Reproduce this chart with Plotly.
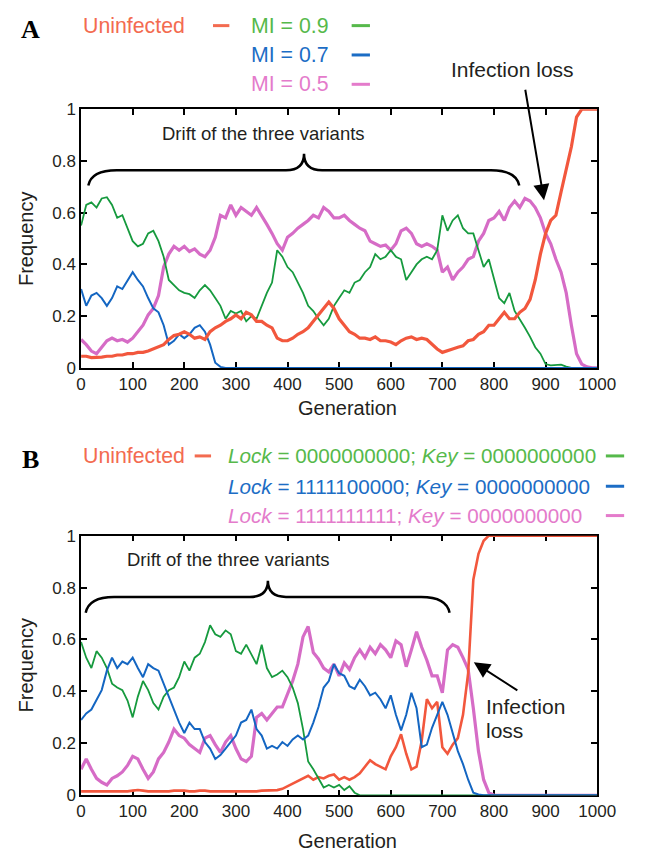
import plotly.graph_objects as go

W, H = 647, 862

# ---------------- data ----------------
generations = list(range(0, 1001, 10))

a_uninfected = [0.045, 0.045, 0.04, 0.04, 0.042, 0.045, 0.045, 0.05, 0.05, 0.055,
                0.055, 0.06, 0.06, 0.065, 0.073, 0.08, 0.09, 0.11, 0.125, 0.13,
                0.14, 0.13, 0.115, 0.12, 0.11, 0.14, 0.155, 0.165, 0.18, 0.19,
                0.205, 0.19, 0.215, 0.205, 0.18, 0.18, 0.165, 0.155, 0.115, 0.105,
                0.105, 0.115, 0.13, 0.14, 0.155, 0.18, 0.205, 0.23, 0.255, 0.23,
                0.19, 0.165, 0.14, 0.13, 0.115, 0.115, 0.11, 0.12, 0.105, 0.105,
                0.10, 0.09, 0.105, 0.115, 0.12, 0.11, 0.115, 0.11, 0.09, 0.073,
                0.06, 0.065, 0.073, 0.08, 0.085, 0.105, 0.11, 0.13, 0.14, 0.165,
                0.165, 0.19, 0.215, 0.19, 0.19, 0.215, 0.23, 0.265, 0.34, 0.44,
                0.52, 0.57, 0.59, 0.68, 0.77, 0.855, 0.97, 1.0, 1.0, 1.0, 1.0]

a_mi09 = [0.55, 0.63, 0.64, 0.62, 0.655, 0.66, 0.63, 0.58, 0.59, 0.54,
          0.49, 0.47, 0.48, 0.52, 0.53, 0.49, 0.43, 0.34, 0.32, 0.30,
          0.29, 0.285, 0.27, 0.30, 0.32, 0.30, 0.27, 0.24, 0.19, 0.22,
          0.21, 0.22, 0.18, 0.20, 0.19, 0.24, 0.29, 0.33, 0.455, 0.43,
          0.39, 0.37, 0.33, 0.29, 0.24, 0.22, 0.19, 0.165, 0.19, 0.24,
          0.27, 0.30, 0.29, 0.33, 0.34, 0.37, 0.39, 0.44, 0.42, 0.43,
          0.455, 0.43, 0.42, 0.34, 0.37, 0.40, 0.42, 0.43, 0.42, 0.455,
          0.59, 0.53, 0.57, 0.59, 0.54, 0.52, 0.52, 0.455, 0.39, 0.42,
          0.34, 0.27, 0.25, 0.29, 0.22, 0.19, 0.155, 0.12, 0.08, 0.055,
          0.015, 0.01, 0.012, 0.013, 0.005, 0, 0, 0, 0, 0, 0]

a_mi07 = [0.305, 0.24, 0.28, 0.29, 0.27, 0.24, 0.27, 0.315, 0.305, 0.34,
          0.37, 0.34, 0.315, 0.27, 0.23, 0.215, 0.165, 0.09, 0.105, 0.13,
          0.115, 0.13, 0.155, 0.165, 0.14, 0.09, 0.02, 0.004, 0, 0] + [0] * 71

a_mi05 = [0.11, 0.09, 0.065, 0.055, 0.08, 0.105, 0.115, 0.105, 0.11, 0.10,
          0.115, 0.14, 0.165, 0.205, 0.23, 0.28, 0.39, 0.44, 0.47, 0.455,
          0.47, 0.45, 0.46, 0.44, 0.43, 0.455, 0.505, 0.59, 0.58, 0.63,
          0.59, 0.62, 0.605, 0.59, 0.62, 0.59, 0.555, 0.52, 0.48, 0.455,
          0.505, 0.52, 0.54, 0.555, 0.57, 0.59, 0.58, 0.62, 0.605, 0.58,
          0.58, 0.59, 0.57, 0.555, 0.54, 0.53, 0.49, 0.48, 0.47, 0.475,
          0.455, 0.48, 0.53, 0.54, 0.52, 0.48, 0.47, 0.48, 0.47, 0.455,
          0.37, 0.39, 0.34, 0.37, 0.39, 0.42, 0.43, 0.49, 0.52, 0.57,
          0.58, 0.605, 0.57, 0.62, 0.645, 0.62, 0.655, 0.645, 0.62, 0.58,
          0.52, 0.48, 0.42, 0.37, 0.29, 0.165, 0.055, 0.015, 0.004, 0, 0]

b_uninfected = [0.015, 0.015, 0.015, 0.015, 0.015, 0.015, 0.015, 0.015, 0.015, 0.015,
                0.018, 0.02, 0.018, 0.015, 0.015, 0.015, 0.015, 0.015, 0.018, 0.018,
                0.018, 0.015, 0.015, 0.018, 0.018, 0.015, 0.015, 0.015, 0.015, 0.015,
                0.015, 0.015, 0.015, 0.015, 0.015, 0.018, 0.018, 0.02, 0.02, 0.025,
                0.035, 0.045, 0.055, 0.065, 0.075, 0.06, 0.07, 0.065, 0.075, 0.08,
                0.06, 0.07, 0.06, 0.07, 0.085, 0.11, 0.135, 0.12, 0.11, 0.10,
                0.15, 0.185, 0.235, 0.16, 0.10, 0.11, 0.21, 0.37, 0.335, 0.36,
                0.185, 0.16, 0.195, 0.22, 0.31, 0.47, 0.83, 0.93, 0.98, 1.0] + [1.0] * 21

b_lock0 = [0.59, 0.53, 0.49, 0.555, 0.53, 0.49, 0.43, 0.415, 0.405, 0.365,
           0.30, 0.38, 0.44, 0.405, 0.355, 0.33, 0.38, 0.405, 0.415, 0.455,
           0.515, 0.48, 0.53, 0.545, 0.59, 0.655, 0.62, 0.61, 0.635, 0.62,
           0.555, 0.545, 0.58, 0.545, 0.505, 0.58, 0.49, 0.455, 0.465, 0.48,
           0.455, 0.415, 0.355, 0.255, 0.13, 0.10, 0.065, 0.03, 0.04, 0.03,
           0.04, 0.02, 0.035, 0.01, 0] + [0] * 46

b_lock5 = [0.29, 0.315, 0.33, 0.365, 0.405, 0.48, 0.53, 0.49, 0.515, 0.505,
           0.53, 0.49, 0.455, 0.505, 0.49, 0.48, 0.43, 0.38, 0.33, 0.28,
           0.24, 0.28, 0.255, 0.255, 0.205, 0.18, 0.14, 0.155, 0.18, 0.205,
           0.23, 0.28, 0.29, 0.33, 0.255, 0.23, 0.18, 0.19, 0.18, 0.205,
           0.19, 0.215, 0.23, 0.215, 0.23, 0.28, 0.34, 0.415, 0.44, 0.505,
           0.47, 0.46, 0.42, 0.41, 0.445, 0.42, 0.385, 0.395, 0.37, 0.335,
           0.385, 0.31, 0.25, 0.31, 0.395, 0.335, 0.185, 0.195, 0.26, 0.31,
           0.36, 0.31, 0.235, 0.17, 0.12, 0.06, 0.01, 0.003, 0, 0] + [0] * 21

b_lock10 = [0.10, 0.14, 0.10, 0.065, 0.05, 0.04, 0.065, 0.075, 0.09, 0.115,
            0.15, 0.14, 0.10, 0.065, 0.09, 0.14, 0.165, 0.205, 0.255, 0.23,
            0.22, 0.195, 0.18, 0.165, 0.22, 0.23, 0.195, 0.165, 0.205, 0.23,
            0.18, 0.14, 0.13, 0.15, 0.30, 0.315, 0.29, 0.315, 0.34, 0.34,
            0.39, 0.44, 0.505, 0.61, 0.65, 0.55, 0.525, 0.49, 0.475, 0.505,
            0.46, 0.51, 0.485, 0.53, 0.56, 0.53, 0.57, 0.545, 0.58, 0.56,
            0.53, 0.595, 0.58, 0.495, 0.56, 0.63, 0.57, 0.52, 0.46, 0.46,
            0.395, 0.56, 0.58, 0.57, 0.53, 0.485, 0.335, 0.17, 0.06, 0.01] + [0] * 21

x_ticks = list(range(0, 1001, 100))
y_ticks = [0, 0.2, 0.4, 0.6, 0.8, 1]
y_ticktext = ["0", "0.2", "0.4", "0.6", "0.8", "1"]

legend_a = ["Uninfected", "MI = 0.9", "MI = 0.7", "MI = 0.5"]
legend_b = ["Uninfected",
            "<i>Lock</i> = 0000000000; <i>Key</i> = 0000000000",
            "<i>Lock</i> = 1111100000; <i>Key</i> = 0000000000",
            "<i>Lock</i> = 1111111111; <i>Key</i> = 0000000000"]

# ---------------- style ----------------
RED, GREEN, BLUE, PINK = "#f2573d", "#169a3e", "#1466c2", "#d66cc6"
RED_T, GREEN_T, BLUE_T, PINK_T = "#f36b50", "#56b94b", "#1c6dc5", "#e47bcb"
FONT = "Liberation Sans"
TXT = "#231f20"
LEG = 21.3
LEG_B = 20.7


def px(x):
    return x / W


def py(y):
    return 1 - y / H


fig = go.Figure()

series_a = [(a_uninfected, RED, 3.2), (a_mi09, GREEN, 1.8), (a_mi07, BLUE, 2.0), (a_mi05, PINK, 3.2)]
order_a = [3, 1, 2, 0]
for i in order_a:
    ys, col, lw = series_a[i]
    fig.add_trace(go.Scatter(x=generations, y=ys, mode="lines", line=dict(color=col, width=lw),
                             xaxis="x", yaxis="y", showlegend=False, hoverinfo="skip"))

series_b = [(b_uninfected, RED, 2.6), (b_lock0, GREEN, 1.8), (b_lock5, BLUE, 2.0), (b_lock10, PINK, 3.2)]
order_b = [3, 0, 1, 2]
for i in order_b:
    ys, col, lw = series_b[i]
    fig.add_trace(go.Scatter(x=generations, y=ys, mode="lines", line=dict(color=col, width=lw),
                             xaxis="x2", yaxis="y2", showlegend=False, hoverinfo="skip"))

axis_common = dict(showline=True, linecolor="black", linewidth=1.5, mirror="ticks",
                   ticks="inside", ticklen=6, tickwidth=1.5, tickcolor="black",
                   showgrid=False, zeroline=False, layer="below traces",
                   tickfont=dict(family=FONT, size=17, color=TXT))

x_dom = [px(79), px(615)]
fig.update_layout(
    width=W, height=H, margin=dict(l=0, r=0, t=0, b=0),
    paper_bgcolor="white", plot_bgcolor="white",
    xaxis=dict(domain=x_dom, range=[0, 1000], tickvals=x_ticks, anchor="y", **axis_common),
    yaxis=dict(domain=[py(367), py(102.5)], range=[0, 1], tickvals=y_ticks, ticktext=y_ticktext,
               anchor="x", **axis_common),
    xaxis2=dict(domain=x_dom, range=[0, 1000], tickvals=x_ticks, anchor="y2", **axis_common),
    yaxis2=dict(domain=[py(804), py(538.5)], range=[0, 1], tickvals=y_ticks, ticktext=y_ticktext,
                anchor="x2", **axis_common),
)

ann = []
shapes = []


def text(x, y, s, size, color=TXT, anchor="center", family=FONT, angle=0):
    ann.append(dict(x=px(x), y=py(y), xref="paper", yref="paper", text=s, showarrow=False,
                    xanchor=anchor, yanchor="middle", textangle=angle,
                    font=dict(family=family, size=size, color=color)))


def dash(x0, x1, y, color):
    shapes.append(dict(type="line", xref="paper", yref="paper", x0=px(x0), x1=px(x1),
                       y0=py(y), y1=py(y), line=dict(color=color, width=3)))


# panel letters
text(27, 21, "<b>A</b>", 26, "black", family="Liberation Serif")
text(27, 461, "<b>B</b>", 26, "black", family="Liberation Serif")

# legend A
text(79, 17, legend_a[0], LEG, RED_T, anchor="left")
dash(216, 233, 17, RED_T)
for (lbl, col, yy) in zip(legend_a[1:], [GREEN_T, BLUE_T, PINK_T], [17, 47, 77]):
    text(253, yy, lbl, LEG, col, anchor="left")
    dash(360, 379, yy, col)

# legend B
text(79, 457, legend_b[0], LEG, RED_T, anchor="left")
dash(197, 214, 457, RED_T)
for (lbl, col, yy) in zip(legend_b[1:], [GREEN_T, BLUE_T, PINK_T], [457, 488, 518]):
    text(229, yy, lbl, LEG_B, col, anchor="left")
    dash(624, 643, yy, col)

# axis titles
for yy in (408, 851):
    text(356, yy, "Generation", 20)
for yy in (235, 671):
    text(22, yy, "Frequency", 20, angle=-90)

# drift annotations
text(268, 127, "Drift of the three variants", 18.5)
text(232, 563, "Drift of the three variants", 18.5)

# braces (data coordinates)
brace_a = (14, 432, 849, 0.705, 0.764, 0.828)
brace_b = (9, 362, 714, 0.703, 0.764, 0.826)
for (x0, xm, x1, yl, yf, yp), xr, yr in ((brace_a, "x", "y"), (brace_b, "x2", "y2")):
    path = (f"M {x0},{yl} Q {x0 + 6},{yf} {x0 + 55},{yf} L {xm - 35},{yf} "
            f"Q {xm},{yf} {xm},{yp} Q {xm},{yf} {xm + 35},{yf} L {x1 - 55},{yf} "
            f"Q {x1 - 6},{yf} {x1},{yl}")
    shapes.append(dict(type="path", path=path, xref=xr, yref=yr,
                       line=dict(color="black", width=2.5)))

# infection loss
text(527, 62, "Infection loss", 21)
ann.append(dict(x=897, y=0.648, xref="x", yref="y", ax=-19, ay=-112, axref="pixel", ayref="pixel",
                showarrow=True, arrowhead=2, arrowsize=1.6, arrowwidth=2, arrowcolor="black", text=""))
ann.append(dict(x=761, y=0.512, xref="x2", yref="y2", ax=45, ay=29,
                showarrow=True, arrowhead=2, arrowsize=1.6, arrowwidth=2, arrowcolor="black", text=""))
text(497, 713, "Infection", 21, anchor="left")
text(497, 738, "loss", 21, anchor="left")

fig.update_layout(annotations=ann, shapes=shapes)
fig.write_html("out.html")
